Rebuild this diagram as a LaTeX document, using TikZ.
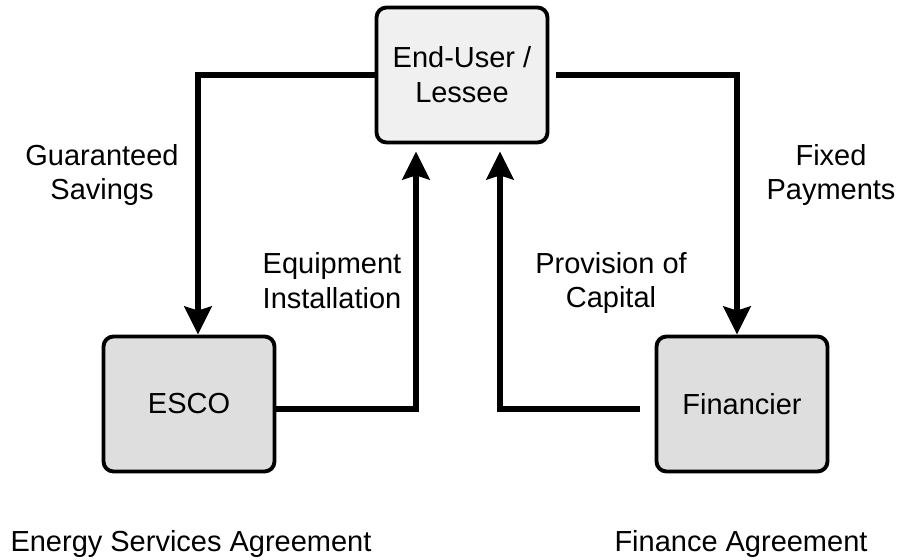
\documentclass[tikz,border=0pt]{standalone}
\usepackage{fontspec}
\setmainfont{Liberation Sans}
\usetikzlibrary{arrows.meta}
\tikzset{
  party/.style={draw=black, line width=2.2pt, rounded corners=0.2cm, fill=black!13,
    minimum width=3.42cm, minimum height=2.7cm, align=center, inner sep=0pt},
  flow/.style={line width=3.6pt, -{Stealth[length=0.56cm,width=0.54cm,inset=0.08cm]}},
  lbl/.style={align=center}
}
\begin{document}
\begin{tikzpicture}[x=0.02cm,y=-0.02cm,font=\fontsize{16.5}{19.8}\selectfont]
        \useasboundingbox (0,0) rectangle (900,560);
		\node[party,fill=black!6] (user) at (462,75) {End-User /\\Lessee};
		\node[party] (esco) at (189,404) {ESCO};
		\node[party] (fin) at (742,404) {Financier};
		\draw[flow] (user.west) -| ([xshift=0.18cm]esco.north);
		\draw[flow] ([xshift=0.14cm]user.east) -| ([xshift=-0.1cm]fin.north);
		\draw[flow] ([yshift=-0.1cm]esco.east) -| ([xshift=-0.92cm,yshift=-0.14cm]user.south);
		\draw[flow] ([xshift=-0.3cm,yshift=-0.1cm]fin.west) -| ([xshift=0.76cm,yshift=-0.14cm]user.south);
		\node[lbl] (savings) at (102,175) {Guaranteed\\Savings};
		\node[lbl] (payments) at (831,175) {Fixed\\Payments};
		\node[lbl] (install) at (332,281) {Equipment\\Installation};
		\node[lbl] (capital) at (611,283) {Provision of\\Capital};
		\node[anchor=base] (esa) at (191,552) {Energy Services Agreement};
		\node[anchor=base] (fa) at (741,552) {Finance Agreement};
\end{tikzpicture}
\end{document}
